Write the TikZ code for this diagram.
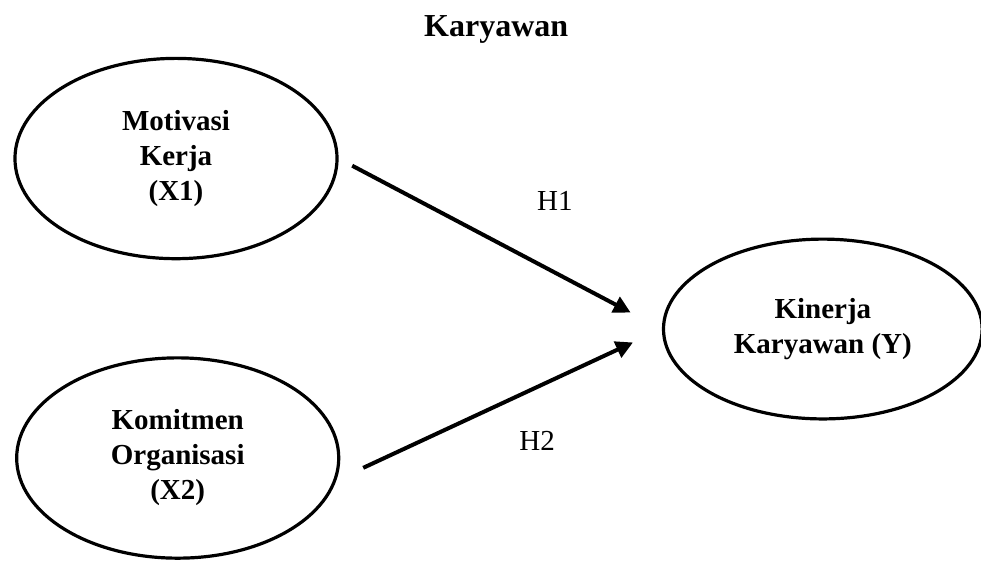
\documentclass[tikz,border=0pt]{standalone}
\usepackage{fontspec}
\setmainfont{Liberation Serif}
\usepackage{tikz}
\usetikzlibrary{arrows.meta}
\usetikzlibrary{shapes.geometric}
\usetikzlibrary{calc}

\begin{document}
\begin{tikzpicture}[
  path arrow/.style={
  arrows = {-Triangle[length=0.3cm,width=0.3cm]},
  line width=2pt
  },
  latent/.style={
      ellipse,
      draw,
      line width=1.6pt,
      minimum width=5.66cm,
      minimum height=3.52cm,
      inner sep=0pt,
      align=center,
      font=\fontsize{14.5}{17.5}\selectfont\bfseries
    },
  label/.style={
      anchor=base,
      font=\fontsize{14.5}{17.5}\selectfont
    }]

  \useasboundingbox (0,0) rectangle (17.24,-9.877);

  \node [label, font=\fontsize{16}{19}\selectfont\bfseries] (title) at (8.72, -0.65) {Karyawan};

  \node [latent] (motivasi) at (3.093, -2.786) {Motivasi\\Kerja\\(X1)};
  \node [latent] (komitmen) at ($(motivasi) + (0.03cm, -5.263cm)$) {Komitmen\\Organisasi\\(X2)};
  \node [latent, minimum width=5.6cm, minimum height=3.16cm] (kinerja) at (14.46, -5.782) {Kinerja\\Karyawan (Y)};

  \draw [path arrow, shorten <=0.27cm, shorten >=0.62cm] (motivasi.east) -- (kinerja.west);
  \draw [path arrow, shorten <=0.52cm, shorten >=0.56cm] (komitmen.-8.9) -- (kinerja.west);

  \node [label] (h1) at ($(motivasi.east)!0.5!(kinerja.west) + (0.96cm, 0.59cm)$) {H1};
  \node [label] (h2) at (9.438, -7.909) {H2};
\end{tikzpicture}
\end{document}
